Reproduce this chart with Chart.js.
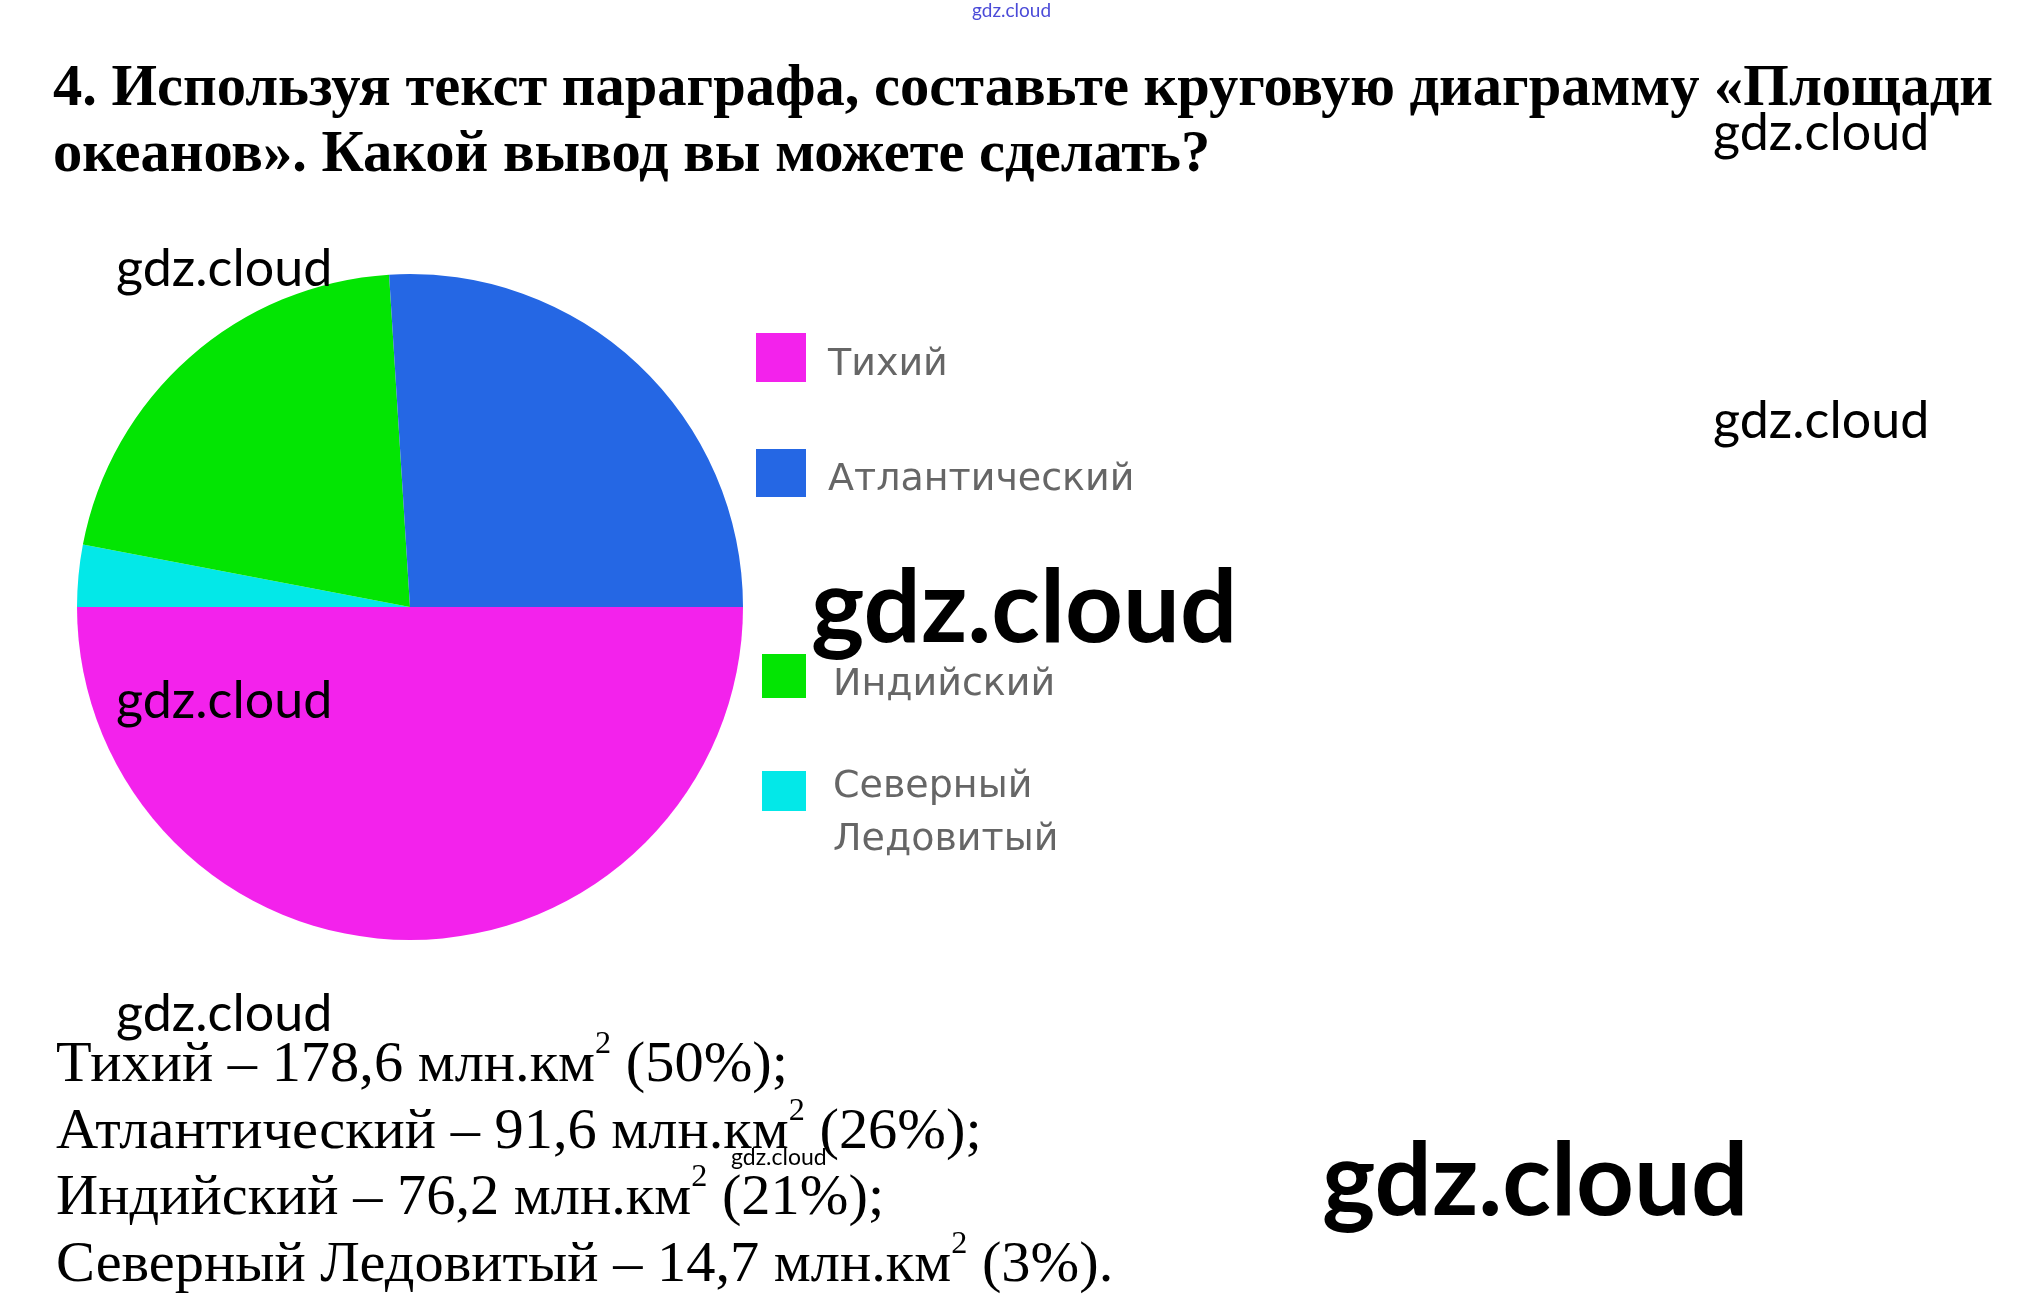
<!DOCTYPE html>
<html>
<head>
<meta charset="utf-8">
<script src="https://cdn.jsdelivr.net/npm/chart.js@4.4.1/dist/chart.umd.min.js"></script>
<style>
html,body{margin:0;padding:0;background:#fff;}
#page{position:relative;width:2023px;height:1312px;overflow:hidden;background:#fff;}
#chart{position:absolute;left:0;top:0;}
.t{position:absolute;left:0;top:0;white-space:nowrap;transform-origin:0 0;line-height:1.2;}
.strut{display:inline-block;width:0;height:0;vertical-align:baseline;}
.title{font-family:"Liberation Serif","Times New Roman",serif;font-weight:bold;font-size:60px;color:#000;}
.ans{font-family:"Liberation Serif","Times New Roman",serif;font-size:58px;color:#000;}
.ans sup{font-size:32px;vertical-align:28px;line-height:0;}
.wm{font-family:Lato,"Open Sans",sans-serif;color:#000;}
</style>
</head>
<body>
<div id="page">
  <canvas id="chart" width="2023" height="1312"></canvas>
</div>
<script>
// ---------- data ----------
const categories = ['Тихий', 'Атлантический', 'Индийский', 'Северный Ледовитый'];
const areas = [178.6, 91.6, 76.2, 14.7];          // млн. км²
const shares = [50, 26, 21, 3];                   // % (what the pie shows)
const areaUnit = 'млн.км';
const questionLines = [
  '4. Используя текст параграфа, составьте круговую диаграмму «Площади',
  'океанов». Какой вывод вы можете сделать?'
];
const watermarkText = 'gdz.cloud';

// ---------- styles ----------
const sliceColors = ['#F322EC', '#2567E4', '#03E503', '#03E8E8'];

// ---------- chart ----------
// slices run counter-clockwise in legend order starting at 9 o'clock,
// so Chart.js (which draws clockwise) gets the reversed order
const drawOrder = categories.map((_, i) => i).reverse();

const legendLayout = [
  { box: [756, 333, 50, 49], text: [828, 375] },
  { box: [756, 449, 50, 48], text: [828, 490] },
  { box: [762, 654, 44, 44], text: [833, 695] },
  { box: [762, 771, 44, 40], text: [833, 797], gap: 53 }
];

const customLegend = {
  id: 'customLegend',
  afterDraw(chart) {
    const ctx = chart.ctx;
    const ds = chart.data.datasets[0];
    ctx.save();
    ctx.font = '38px "DejaVu Sans", sans-serif';
    ctx.textBaseline = 'alphabetic';
    categories.forEach((cat, i) => {
      const idx = chart.data.labels.indexOf(cat);
      const L = legendLayout[i];
      ctx.fillStyle = ds.backgroundColor[idx];
      ctx.fillRect(L.box[0], L.box[1], L.box[2], L.box[3]);
      ctx.fillStyle = '#666666';
      cat.split(' ').forEach((p, k) => ctx.fillText(p, L.text[0], L.text[1] + k * (L.gap || 0)));
    });
    ctx.restore();
  }
};

new Chart(document.getElementById('chart'), {
  type: 'pie',
  data: {
    labels: drawOrder.map(i => categories[i]),
    datasets: [{
      data: drawOrder.map(i => shares[i]),
      backgroundColor: drawOrder.map(i => sliceColors[i]),
      borderWidth: 0
    }]
  },
  options: {
    responsive: false,
    animation: false,
    rotation: 270,
    layout: { padding: { left: 77, top: 274, right: 1280, bottom: 372 } },
    plugins: { legend: { display: false }, tooltip: { enabled: false } },
    events: []
  },
  plugins: [customLegend]
});

// ---------- text ----------
const page = document.getElementById('page');
function addText(cls, html, x, baseline, style) {
  const el = document.createElement('div');
  el.className = 't ' + cls;
  if (style) Object.assign(el.style, style);
  el.innerHTML = '<span class="strut"></span>' + html;
  page.appendChild(el);
  const strut = el.querySelector('.strut');
  el.style.left = x + 'px';
  el.style.top = (baseline - strut.offsetTop) + 'px';
  return el;
}
function fmt(v) { return v.toFixed(1).replace('.', ','); }

// question
const q1 = addText('title', questionLines[0], 53, 105);
const q2 = addText('title', questionLines[1], 53, 171);
const qScale = 1940 / q1.getBoundingClientRect().width;
[q1, q2].forEach(e => e.style.transform = 'scaleX(' + qScale + ')');

// answer lines
const ansBase = [1081, 1148, 1214, 1281];
const ansEls = categories.map((c, i) =>
  addText('ans', c + ' – ' + fmt(areas[i]) + ' ' + areaUnit + '<sup>2</sup> (' + shares[i] + '%)' +
    (i === categories.length - 1 ? '.' : ';'), 56, ansBase[i]));
const aScale = 732 / ansEls[0].getBoundingClientRect().width;
ansEls.forEach(e => e.style.transform = 'scaleX(' + aScale + ')');

// watermarks
const marks = [
  { x: 972, b: 17, s: 19, w: 400, c: '#4b4bd8' },
  { x: 1713, b: 150, s: 52, w: 400 },
  { x: 1713, b: 438, s: 52, w: 400 },
  { x: 116, b: 286, s: 52, w: 400 },
  { x: 116, b: 718, s: 52, w: 400 },
  { x: 116, b: 1031, s: 52, w: 400 },
  { x: 811, b: 642, s: 101, w: 700 },
  { x: 1322, b: 1215, s: 101, w: 700 },
  { x: 731, b: 1165, s: 23, w: 400 }
];
marks.forEach(m => addText('wm', watermarkText, m.x, m.b,
  { fontSize: m.s + 'px', fontWeight: m.w, color: m.c || '#000' }));
</script>
</body>
</html>
